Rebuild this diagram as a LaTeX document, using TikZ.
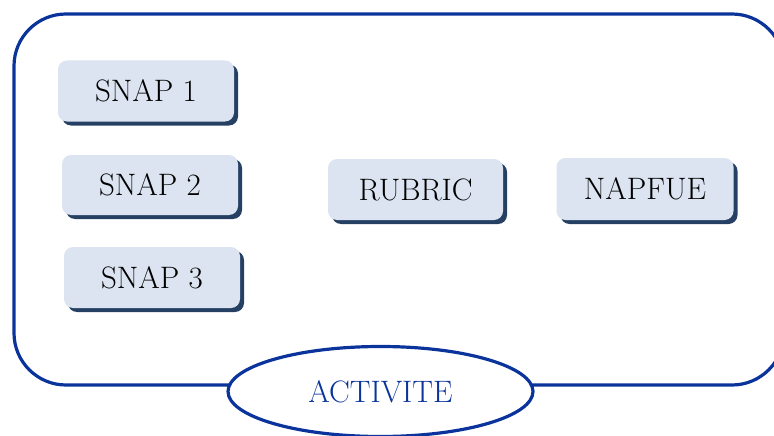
\documentclass[tikz,border=0pt]{standalone}
\usetikzlibrary{shapes.geometric,shadows}
\definecolor{frameblue}{RGB}{10,52,155}
\definecolor{boxfill}{RGB}{219,228,240}
\definecolor{shadowc}{RGB}{38,64,100}
\tikzset{
  box/.style={rectangle, rounded corners=9pt, fill=boxfill, draw=none,
    minimum width=176pt, minimum height=61pt, inner sep=0pt,
    font=\fontsize{31}{36}\selectfont,
    general shadow={shadow xshift=4pt, shadow yshift=-4pt, fill=shadowc}},
  container/.style={draw=frameblue, line width=3.2pt, rounded corners=52pt},
  act/.style={ellipse, draw=frameblue, line width=3.2pt, fill=white,
    minimum width=305pt, minimum height=90pt, inner sep=0pt,
    text=frameblue, font=\fontsize{31}{36}\selectfont}
}
\begin{document}
\begin{tikzpicture}[x=1pt,y=-1pt]
\useasboundingbox (0,0) rectangle (774,436);
\draw[container] (14,14) rectangle (784,385);
\node[box] (s1) at (146,91) {SNAP 1};
\node[box, minimum height=60pt] (s2) at (150,185) {SNAP 2};
\node[box] (s3) at (152,277.5) {SNAP 3};
\node[box, minimum width=175pt] (rub) at (415.5,189.5) {RUBRIC};
\node[box, minimum width=177pt, minimum height=62pt] (nap) at (645,189) {NAPFUE};
\node[act] (act) at (380.5,391.5) {ACTIVITE};
\end{tikzpicture}
\end{document}
